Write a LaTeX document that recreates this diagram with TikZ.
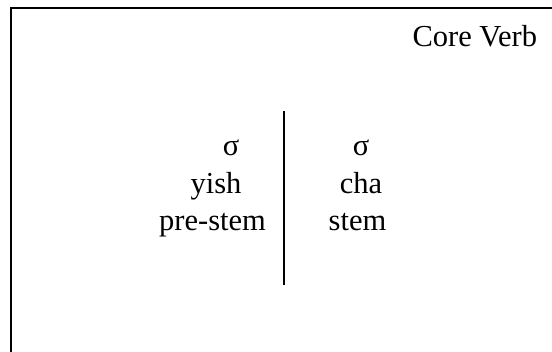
\documentclass[tikz,border=0pt]{standalone}
\usepackage{fontspec}
\setmainfont{Liberation Serif}
\begin{document}
\begin{tikzpicture}[x=1pt,y=-1pt,
  lbl/.style={inner sep=0pt,outer sep=0pt,anchor=base,font=\fontsize{30.5}{36}\selectfont},
  rule/.style={line width=2pt,black}]
\useasboundingbox (0,0) rectangle (552,352);
% frame (top and left sides visible)
\coordinate (fbl) at (11,353);
\coordinate (ftl) at (11,8);
\coordinate (ftr) at (553,8);
\draw[rule] (fbl) -- (ftl) -- (ftr);
% title
\node[lbl,anchor=base east] (title) at (537,46.5) {Core Verb};
% left column
\node[lbl] (sigmaL) at (231,156) {σ};
\node[lbl] (yish) at (216,194) {yish};
\node[lbl] (prestem) at (212.5,231) {pre-stem};
% right column
\node[lbl] (sigmaR) at (361,156) {σ};
\node[lbl] (cha) at (361,194) {cha};
\node[lbl] (stem) at (357.5,231) {stem};
% divider
\coordinate (dtop) at (284,111);
\coordinate (dbot) at (284,285);
\draw[rule] (dtop) -- (dbot);
\end{tikzpicture}
\end{document}
